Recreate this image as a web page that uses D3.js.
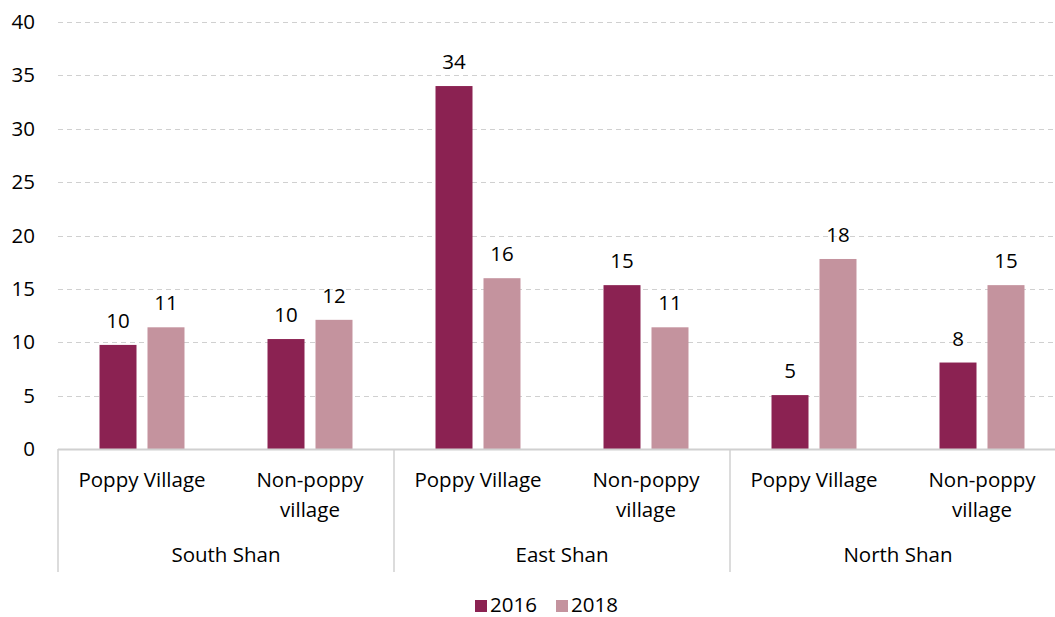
<!DOCTYPE html>
<html><head><meta charset="utf-8">
<script src="https://cdn.jsdelivr.net/npm/d3@7"></script>
<style>body{margin:0;background:#fff}svg{display:block;font-family:"Open Sans",sans-serif}</style>
</head><body><svg id="c" width="1055" height="617"></svg>
<script>
const groups = ["South Shan","East Shan","North Shan"];
const subcats = [["Poppy Village"],["Non-poppy","village"]];
const seriesNames = ["2016","2018"];
const values2016 = [9.75, 10.3, 34.0, 15.35, 5.05, 8.1];
const values2018 = [11.4, 12.1, 16.0, 11.4, 17.8, 15.35];
const labels2016 = ["10","10","34","15","5","8"];
const labels2018 = ["11","12","16","11","18","15"];
const yTicks = [0,5,10,15,20,25,30,35,40];
const colors = ["#8B2252","#C4939E"];

(function(){
const FS = 20.5;
const svg = d3.select("#c");
const pLeft = 58, pRight = 1066, pTop = 22, pBottom = 449;
const y = d3.scaleLinear().domain([0,40]).range([pBottom, pTop]);
const cats = d3.range(groups.length * subcats.length);
const x = d3.scaleBand().domain(cats).range([pLeft, pRight]);
const xs = d3.scaleBand().domain(seriesNames).range([0, x.bandwidth()]).paddingInner(0.229).paddingOuter(0.865);

svg.append("g").selectAll("line").data(yTicks.filter(t=>t>0)).join("line")
  .attr("x1", pLeft).attr("x2", 1055).attr("y1", d=>Math.round(y(d))+0.5).attr("y2", d=>Math.round(y(d))+0.5)
  .attr("stroke","#d0d0d0").attr("stroke-width",1).attr("stroke-dasharray","5,4");

const yAxis = d3.axisLeft(y).tickValues(yTicks).tickSize(0).tickPadding(0);
const ya = svg.append("g").attr("transform",`translate(${pLeft-23},0)`).call(yAxis);
ya.select(".domain").remove();
ya.selectAll("text").attr("font-size",FS).attr("fill","#000").attr("text-anchor","end").attr("font-family","'Open Sans',sans-serif");

const series = [values2016, values2018];
const lbls = [labels2016, labels2018];
series.forEach((vals, si) => {
  svg.append("g").selectAll("rect").data(vals).join("rect")
    .attr("x",(d,i)=>x(i)+xs(seriesNames[si]))
    .attr("width", xs.bandwidth())
    .attr("y", d=>y(d)).attr("height", d=>pBottom - y(d))
    .attr("fill", colors[si]);
  svg.append("g").selectAll("text").data(vals).join("text")
    .attr("x",(d,i)=>x(i)+xs(seriesNames[si])+xs.bandwidth()/2)
    .attr("y", d=>y(d)-17)
    .attr("text-anchor","middle").attr("font-size",FS).attr("fill","#000")
    .text((d,i)=>lbls[si][i]);
});

svg.append("line").attr("x1",pLeft).attr("x2",1055).attr("y1",pBottom+0.5).attr("y2",pBottom+0.5)
  .attr("stroke","#d0d0d0").attr("stroke-width",2);

const gw = x.bandwidth()*subcats.length;
d3.range(groups.length+1).forEach(g=>{
  const gx = pLeft + g*gw;
  svg.append("line").attr("x1",gx).attr("x2",gx).attr("y1",pBottom).attr("y2",572)
    .attr("stroke","#d0d0d0").attr("stroke-width",1.5);
});

cats.forEach(i=>{
  const lines = subcats[i % subcats.length];
  const t = svg.append("text").attr("text-anchor","middle").attr("font-size",FS).attr("fill","#000");
  lines.forEach((ln,k)=>{
    t.append("tspan").attr("x", x(i)+x.bandwidth()/2).attr("y", 487 + k*30).text(ln);
  });
});
groups.forEach((g,gi)=>{
  svg.append("text").attr("x", pLeft + gi*gw + gw/2).attr("y", 562)
    .attr("text-anchor","middle").attr("font-size",FS).attr("fill","#000").text(g);
});

const legX = [475, 556];
seriesNames.forEach((s,si)=>{
  svg.append("rect").attr("x",legX[si]).attr("y",600).attr("width",12).attr("height",12).attr("fill",colors[si]);
  svg.append("text").attr("x",legX[si]+15).attr("y",612).attr("font-size",FS).attr("fill","#000").text(s);
});
})();
</script></body></html>
